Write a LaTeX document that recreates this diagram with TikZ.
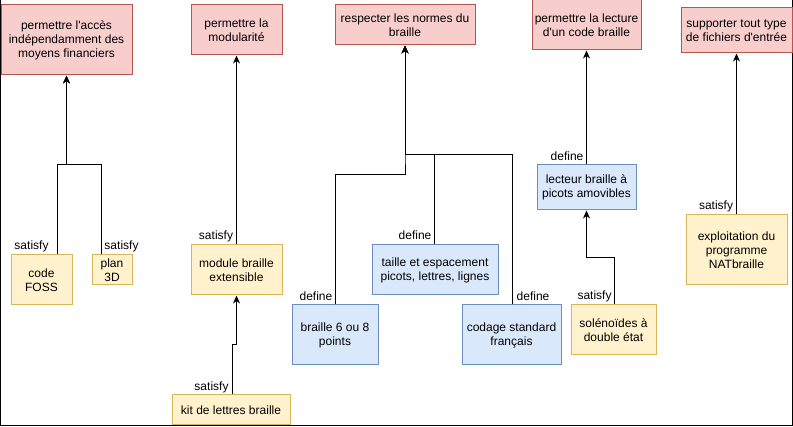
\documentclass[tikz,border=0pt]{standalone}
\usepackage{fontspec}
\setmainfont{Liberation Sans}
\usetikzlibrary{arrows.meta}
\definecolor{rfill}{HTML}{F8CECC}\definecolor{rline}{HTML}{B85450}
\definecolor{yfill}{HTML}{FFF2CC}\definecolor{yline}{HTML}{D6B656}
\definecolor{bfill}{HTML}{DAE8FC}\definecolor{bline}{HTML}{6C8EBF}
\tikzset{
  box/.style={draw, line width=1pt, align=center, inner sep=1pt, font=\fontsize{12}{14}\selectfont, text=black},
  redbox/.style={box, fill=rfill, draw=rline},
  yelbox/.style={box, fill=yfill, draw=yline},
  bluebox/.style={box, fill=bfill, draw=bline},
  lbl/.style={inner sep=0pt, font=\fontsize{12}{14}\selectfont},
  conn/.style={line width=1pt, -{Stealth[length=8pt,width=7pt,inset=2.5pt]}},
  plain/.style={line width=1pt},
}
\begin{document}
\begin{tikzpicture}[x=1pt,y=-1pt]
\useasboundingbox (0,0) rectangle (793,427);
\fill[white] (0,0) rectangle (793,427);
% frame
\draw[plain] (0.5,0) coordinate (fa) -- (0.5,426) coordinate (fb) -- (792,426) coordinate (fc) -- (792,0) coordinate (fd);
% top requirement boxes
\node[redbox, minimum width=131pt, minimum height=70pt] (r1) at (66.5,40) {permettre l\textquotesingle accès\\indépendamment des\\moyens financiers};
\node[redbox, minimum width=91pt, minimum height=50pt] (r2) at (236.5,30) {permettre la\\modularité};
\node[redbox, minimum width=140pt, minimum height=40pt] (r3) at (405,25) {respecter les normes du\\braille};
\node[redbox, minimum width=109pt, minimum height=50pt] (r4) at (586.5,25) {permettre la lecture\\d\textquotesingle un code braille};
\node[redbox, minimum width=111pt, minimum height=45pt] (r5) at (736.5,30.5) {supporter tout type\\de fichiers d\textquotesingle entrée};
% satisfying / defining elements
\node[yelbox, minimum width=61pt, minimum height=50pt] (foss) at (41.5,280) {code\\FOSS};
\node[yelbox, minimum width=40pt, minimum height=30pt] (plan) at (112,270) {plan\\3D};
\node[yelbox, minimum width=91pt, minimum height=50pt] (module) at (236.5,270) {module braille\\extensible};
\node[yelbox, minimum width=118pt, minimum height=30pt] (kit) at (231,410) {kit de lettres braille};
\node[bluebox, minimum width=86pt, minimum height=60pt] (b68) at (335,335) {braille 6 ou 8\\points};
\node[bluebox, minimum width=126pt, minimum height=50pt] (taille) at (435,270) {taille et espacement\\picots, lettres, lignes};
\node[bluebox, minimum width=99pt, minimum height=60pt] (codage) at (511.5,335) {codage standard\\français};
\node[bluebox, minimum width=99pt, minimum height=45pt] (lecteur) at (586.5,187.5) {lecteur braille à\\picots amovibles};
\node[yelbox, minimum width=85pt, minimum height=50pt] (solen) at (613.5,330) {solénoïdes à\\double état};
\node[yelbox, minimum width=101pt, minimum height=70pt] (exploit) at (736.5,250) {exploitation du\\programme\\NATbraille};
% junction points
\coordinate (j1) at (66.5,165);
\coordinate (j3) at (405,155);
% connectors
\draw[conn] ([xshift=15.5pt]foss.north) |- (j1) -- (r1.south);
\draw[conn] ([xshift=-11pt]plan.north) |- (j1) -- (r1.south);
\draw[conn] (module.north) -- (r2.south);
\draw[conn] ([xshift=1pt]kit.north) -- ++(0,-49.5) -| (module.south);
\draw[conn] (b68.north) -- ++(0,-130) -| (j3) -- (r3.south);
\draw[conn] ([xshift=-1pt]taille.north) |- (j3) -- (r3.south);
\draw[conn] ([xshift=0.5pt]codage.north) |- (j3) -- (r3.south);
\draw[conn] (lecteur.north) -- (r4.south);
\draw[conn] ([xshift=0.5pt]solen.north) -- ++(0,-47) -| (lecteur.south);
\draw[conn] (exploit.north) -- (r5.south);
% labels
\node[lbl] (l1) at (31.5,246) {satisfy};
\node[lbl] (l2) at (121.5,246) {satisfy};
\node[lbl] (l3) at (216,236) {satisfy};
\node[lbl] (l4) at (211.5,387) {satisfy};
\node[lbl] (l5) at (316,296) {define};
\node[lbl] (l6) at (415,235) {define};
\node[lbl] (l7) at (533,296) {define};
\node[lbl] (l8) at (567,156) {define};
\node[lbl] (l9) at (594.5,296) {satisfy};
\node[lbl] (l10) at (716,206) {satisfy};
\end{tikzpicture}
\end{document}
